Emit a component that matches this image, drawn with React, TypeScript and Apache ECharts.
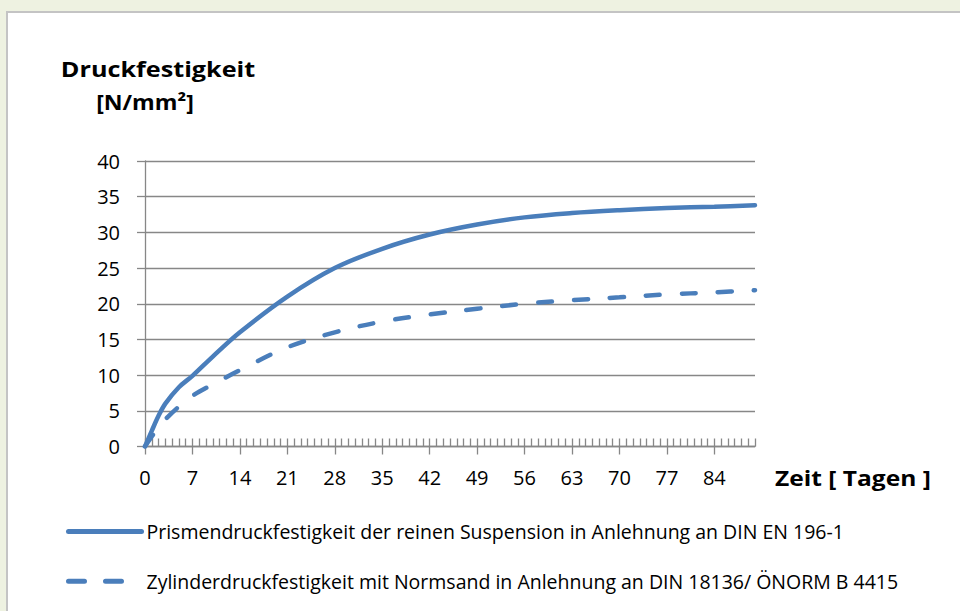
import React, { useEffect, useRef } from "react";
import * as echarts from "echarts";

const days = [0, 1, 2, 3, 5, 7, 10, 14, 21, 28, 35, 42, 49, 56, 63, 70, 77, 84, 90];
const prismValues = [0, 2.2, 4.3, 6.0, 8.3, 9.9, 12.6, 16.0, 21.0, 25.0, 27.7, 29.7, 31.1, 32.1, 32.7, 33.1, 33.4, 33.6, 33.8];
const zylinderValues = [0, 1.4, 2.7, 3.8, 5.6, 7.1, 8.7, 10.7, 13.9, 16.0, 17.5, 18.5, 19.3, 20.0, 20.5, 20.9, 21.3, 21.6, 21.9];
const majorTicks = [0, 7, 14, 21, 28, 35, 42, 49, 56, 63, 70, 77, 84];
const seriesNames = [
  "Prismendruckfestigkeit der reinen Suspension in Anlehnung an DIN EN 196-1",
  "Zylinderdruckfestigkeit mit Normsand in Anlehnung an DIN 18136/ ÖNORM B 4415",
];
const yTitleLine1 = "Druckfestigkeit";
const yTitleLine2 = "[N/mm²]";
const xTitle = "Zeit [ Tagen ]";

const FONT = "Open Sans";
const BLUE = "#4a7ebb";
const GRAY = "#878787";

export default function App() {
  const ref = useRef<HTMLDivElement>(null);
  useEffect(() => {
    if (!ref.current) return;
    const chart = echarts.init(ref.current, null, { renderer: "svg" });
    const toPairs = (vals: number[]) => days.map((d, i) => [d, vals[i]]);
    const titleStyle = {
      fontSize: 21,
      fontWeight: "bold",
      fontFamily: FONT,
      fill: "#000",
      verticalAlign: "middle",
    };
    chart.setOption({
      animation: false,
      backgroundColor: "transparent",
      textStyle: { fontFamily: FONT },
      grid: { left: 145, right: 205, top: 161, bottom: 164.5, containLabel: false },
      xAxis: [
        {
          type: "value",
          min: 0,
          max: 90,
          interval: 7,
          position: "bottom",
          axisLine: { show: true, lineStyle: { color: GRAY, width: 1.3 } },
          axisTick: { show: true, inside: false, length: 8, customValues: majorTicks, lineStyle: { color: GRAY, width: 1.3 } },
          axisLabel: { customValues: majorTicks, margin: 21, fontSize: 20, color: "#000", fontFamily: FONT },
          splitLine: { show: false },
        },
        {
          type: "value",
          min: 0,
          max: 90,
          interval: 1,
          position: "bottom",
          axisLine: { show: false },
          axisTick: { show: true, inside: true, length: 8, lineStyle: { color: GRAY, width: 1.3 } },
          axisLabel: { show: false },
          splitLine: { show: false },
        },
      ],
      yAxis: {
        type: "value",
        min: 0,
        max: 40,
        interval: 5,
        axisLine: { show: true, lineStyle: { color: GRAY, width: 1.3 } },
        axisTick: { show: true, inside: false, length: 8, lineStyle: { color: GRAY, width: 1.3 } },
        axisLabel: { margin: 25, fontSize: 20, color: "#000", fontFamily: FONT },
        splitLine: { show: true, lineStyle: { color: GRAY, width: 1.3 } },
      },
      legend: {
        orient: "vertical",
        left: 61,
        top: 516,
        itemWidth: 73,
        itemHeight: 26,
        itemGap: 29,
        itemStyle: { color: "rgba(0,0,0,0)", borderColor: "rgba(0,0,0,0)", borderWidth: 0, opacity: 0 },
        lineStyle: { width: 5, cap: "round" },
        textStyle: { fontSize: 19.5, color: "#000", fontFamily: FONT },
        data: [
          { name: seriesNames[0], lineStyle: { width: 5, cap: "round" } },
          { name: seriesNames[1], lineStyle: { width: 5, type: [16, 21], cap: "round" } },
        ],
      },
      graphic: [
        {
          type: "text",
          x: 158,
          y: 69,
          scaleX: 1.2,
          style: { ...titleStyle, text: yTitleLine1, x: 0, y: 0, align: "center" },
        },
        {
          type: "text",
          x: 145,
          y: 101,
          scaleX: 1.1,
          style: { ...titleStyle, text: yTitleLine2, x: 0, y: 0, align: "center" },
        },
        {
          type: "text",
          x: 775,
          y: 478,
          scaleX: 1.17,
          style: { ...titleStyle, text: xTitle, x: 0, y: 0, align: "left" },
        },
      ],
      series: [
        {
          name: seriesNames[0],
          type: "line",
          xAxisIndex: 0,
          data: toPairs(prismValues),
          smooth: 0.35,
          showSymbol: false,
          symbol: "none",
          lineStyle: { color: BLUE, width: 4.5, cap: "round" },
          itemStyle: { color: BLUE },
        },
        {
          name: seriesNames[1],
          type: "line",
          xAxisIndex: 0,
          data: toPairs(zylinderValues),
          smooth: 0.35,
          showSymbol: false,
          symbol: "none",
          lineStyle: { color: BLUE, width: 4.5, type: [14, 22], cap: "round" },
          itemStyle: { color: BLUE },
        },
      ],
    });
    return () => chart.dispose();
  }, []);

  return (
    <div style={{ position: "fixed", left: 0, top: 0, width: 960, height: 611, background: "#eef2e1", overflow: "hidden" }}>
      <div
        style={{
          position: "absolute",
          left: 6,
          top: 11,
          width: 1000,
          height: 700,
          background: "#fff",
          borderLeft: "2px solid #c4c4c4",
          borderTop: "2px solid #c4c4c4",
        }}
      />
      <div ref={ref} style={{ position: "absolute", left: 0, top: 0, width: 960, height: 611 }} />
    </div>
  );
}
